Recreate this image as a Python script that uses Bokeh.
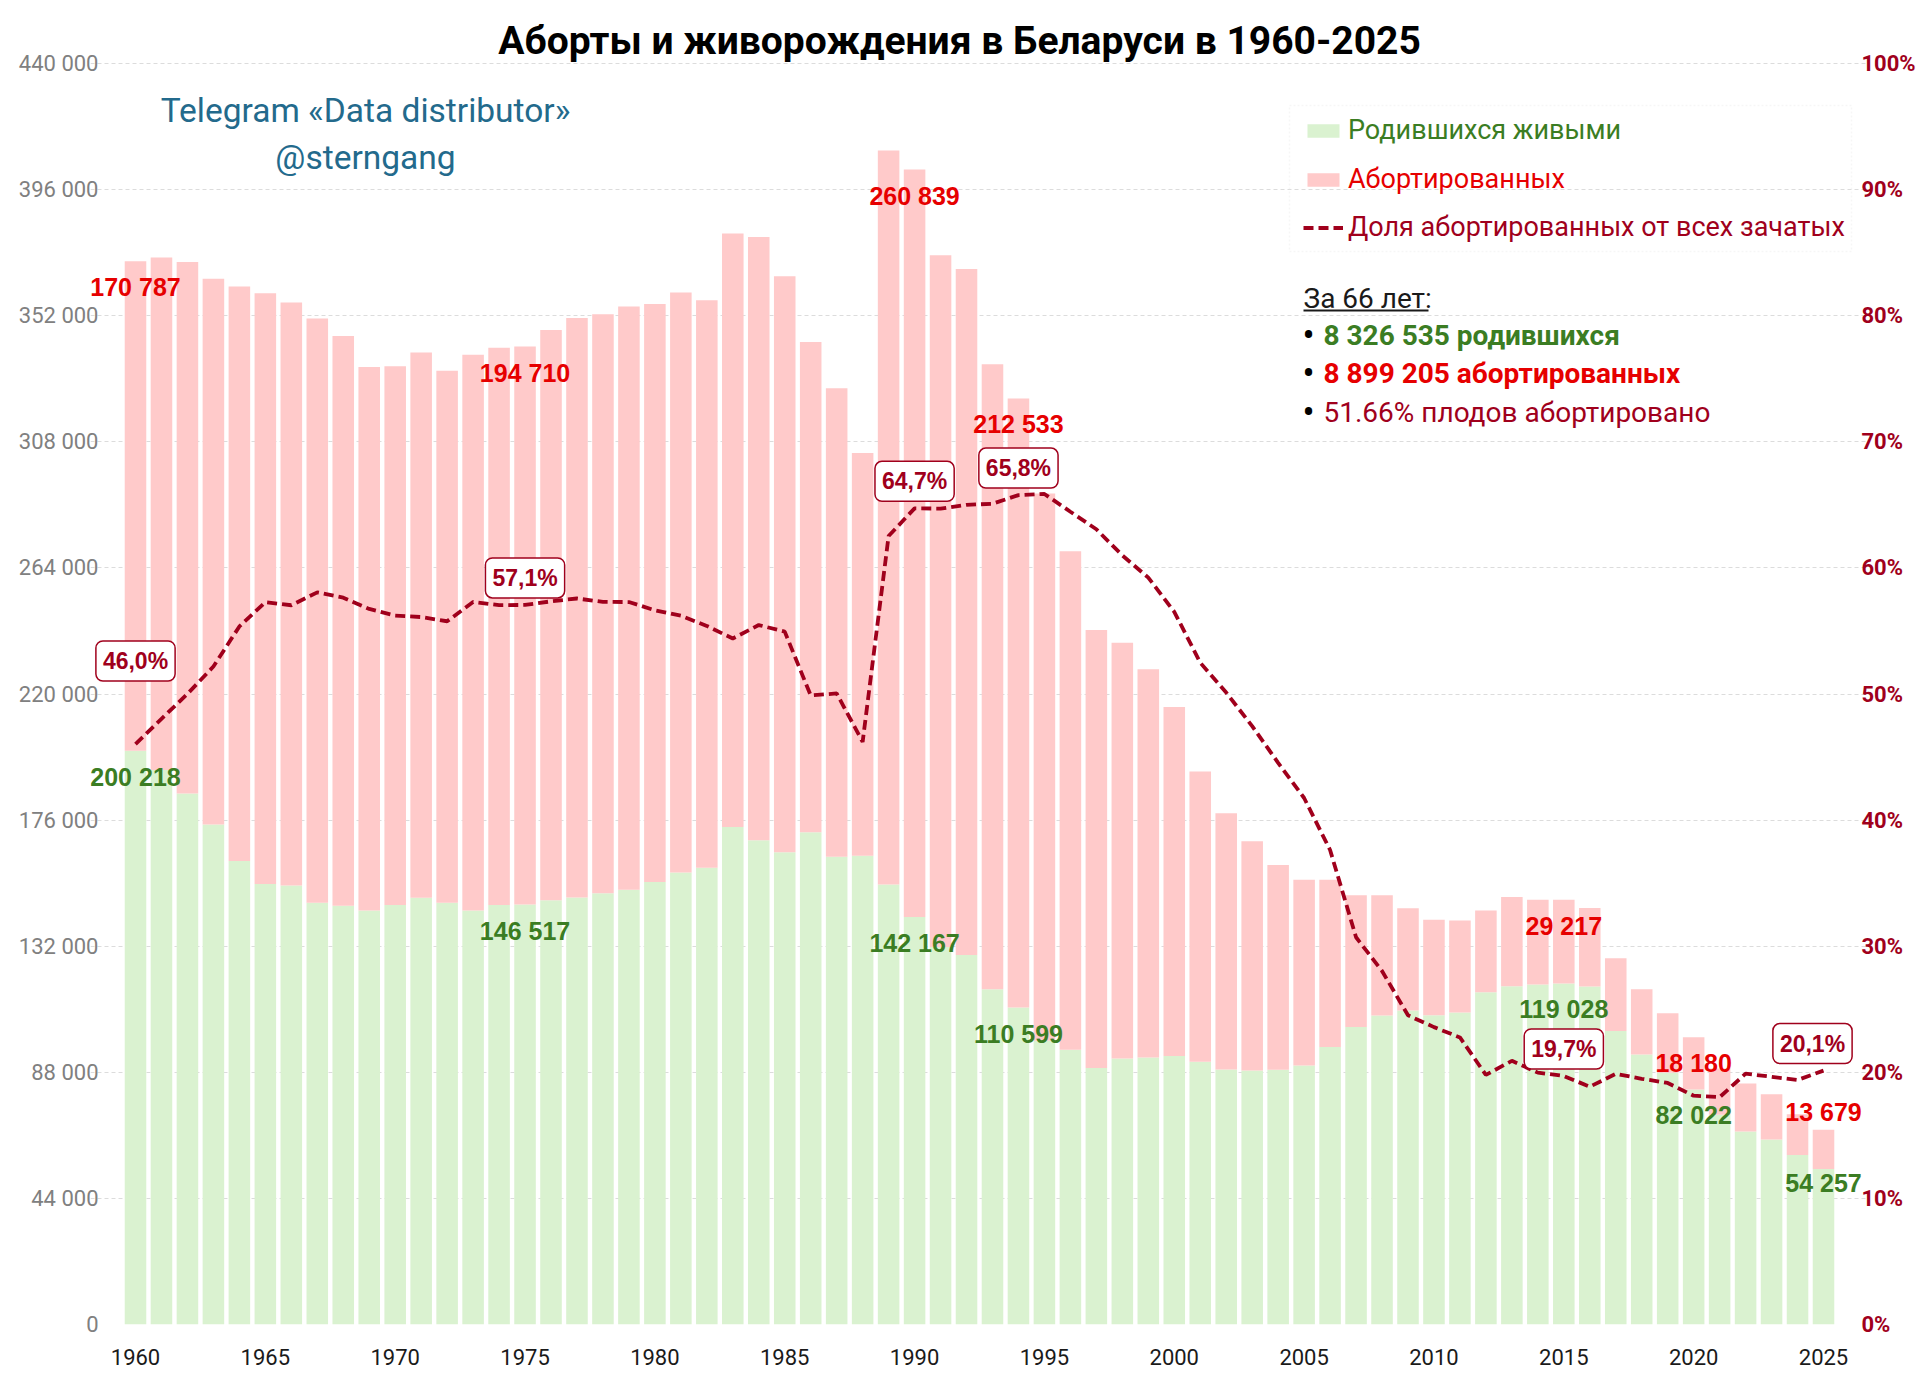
from bokeh.embed import file_html
from bokeh.resources import INLINE
from bokeh.plotting import figure
from bokeh.models import (ColumnDataSource, Range1d, LinearAxis, FixedTicker, SingleIntervalTicker,
                          CustomJSTickFormatter, PrintfTickFormatter, Label, Legend, LegendItem,
                          BoxAnnotation)

# ---- data ----
years = list(range(1960, 2026))
births = [200218, 193500, 185300, 174500, 161700, 153700, 153200, 147200, 146100, 144500,
          146400, 148900, 147200, 144500, 146400, 146517, 148000, 149000, 150500, 151700,
          154400, 157700, 159400, 173600, 169000, 164800, 171800, 163200, 163600, 153500,
          142167, 131700, 128900, 117000, 110599, 99000, 95900, 89500, 92800, 93200,
          93700, 91700, 89000, 88600, 88900, 90400, 96800, 103800, 107800, 109600,
          107900, 108900, 115900, 118000, 118600, 119028, 117900, 102400, 94200, 87800,
          82022, 73200, 67350, 64550, 59170, 54257]
abortions = [170787, 178800, 185400, 190400, 200500, 206100, 203400, 203800, 198800, 189600,
             188000, 190300, 185600, 193900, 194400, 194710, 199000, 202200, 202000, 203500,
             201700, 202400, 198000, 207100, 210500, 201000, 171000, 163500, 140500, 256100,
             260839, 241400, 239400, 218100, 212533, 191000, 173900, 152800, 145100, 135400,
             121800, 101300, 89400, 80000, 71400, 64800, 58400, 46000, 42000, 35600,
             33300, 32100, 28600, 31200, 29600, 29217, 27400, 25400, 22800, 20800,
             18180, 16100, 16720, 15780, 14230, 13679]
year_ticks = [1960, 1965, 1970, 1975, 1980, 1985, 1990, 1995, 2000, 2005, 2010, 2015, 2020, 2025]
marked_years = [1960, 1975, 1990, 1994, 2015, 2020, 2025]
share_boxes = [1960, 1975, 1990, 1994, 2015, 2025]
stats = ["8 326 535 родившихся", "8 899 205 абортированных", "51.66% плодов абортировано"]

share = [100.0 * a / (a + b) for a, b in zip(abortions, births)]
total = [a + b for a, b in zip(abortions, births)]

GREEN = "#daf2d0"
PINK = "#ffcaca"
DARK = "#a0001c"
RED = "#e60000"
DGREEN = "#3b7d23"
NARROW = "Roboto"
WIDE = "Liberation Sans"

# frame spans x 90..1866, y 12..1324 (page px); 440 000 sits at y=63
W, H = 1920, 1375
FL, FR, FT, FB = 90, 1866, 12, 1324
PX_PER_YEAR = 25.97
y_top = 440000 * (FB - FT) / (FB - 63)
pct_top = 100.0 * (FB - FT) / (FB - 63)

p = figure(width=W, height=H,
           x_range=Range1d(1960 - (135 - FL) / PX_PER_YEAR, 2025 + (FR - 1823) / PX_PER_YEAR),
           y_range=Range1d(0, y_top), output_backend="svg", toolbar_location=None,
           min_border_left=FL, min_border_right=W - FR, min_border_top=FT,
           min_border_bottom=H - FB)
p.outline_line_color = None
p.extra_y_ranges = {"pct": Range1d(0, pct_top)}


def sx(px):
    return px - FL


def sy(py):
    return FB - py


src = ColumnDataSource(dict(year=years, births=births, abortions=abortions, share=share))
bars = p.vbar_stack(["births", "abortions"], x="year", width=0.83, source=src,
                    fill_color=[GREEN, PINK], line_color=None)
line = p.line("year", "share", source=src, y_range_name="pct", line_color=DARK,
              line_width=3.8, line_dash="10 5")

# axes
p.yaxis.ticker = SingleIntervalTicker(interval=44000, num_minor_ticks=0)
p.yaxis.formatter = CustomJSTickFormatter(
    code=r"return tick.toFixed(0).replace(/\B(?=(\d{3})+(?!\d))/g, ' ');")
p.xaxis.ticker = FixedTicker(ticks=year_ticks, minor_ticks=[])

pct_axis = LinearAxis(y_range_name="pct",
                      ticker=SingleIntervalTicker(interval=10, num_minor_ticks=0),
                      formatter=PrintfTickFormatter(format="%d%%"))
p.add_layout(pct_axis, "right")

for ax in [p.yaxis[0], p.xaxis[0], pct_axis]:
    ax.axis_line_color = None
    ax.major_tick_line_color = None
    ax.minor_tick_line_color = None
    ax.major_tick_out = 0
    ax.major_tick_in = 0
    ax.minor_tick_out = 0
    ax.minor_tick_in = 0
    ax.major_label_text_font = NARROW

p.yaxis[0].major_label_text_color = "#808080"
p.yaxis[0].major_label_text_font_size = "22px"
p.yaxis[0].major_label_standoff = -8
pct_axis.major_label_text_color = DARK
pct_axis.major_label_text_font_style = "bold"
pct_axis.major_label_text_font_size = "22px"
pct_axis.major_label_standoff = -5
p.xaxis[0].major_label_text_color = "#1a1a1a"
p.xaxis[0].major_label_text_font_size = "22px"
p.xaxis[0].major_label_standoff = 24

p.xgrid.visible = False
p.ygrid.grid_line_color = "#dcdcdc"
p.ygrid.grid_line_dash = "4 3"

# value labels
fmt = lambda v: f"{v:,}".replace(",", " ")
top_off = {2025: 18}
low_off = {2025: -14}
for yr in marked_years:
    i = years.index(yr)
    p.add_layout(Label(x=yr, y=total[i], y_offset=top_off.get(yr, -26), text=fmt(abortions[i]),
                       text_align="center", text_baseline="middle", text_color=RED,
                       text_font=WIDE, text_font_style="bold", text_font_size="25px"))
    p.add_layout(Label(x=yr, y=births[i], y_offset=low_off.get(yr, -26), text=fmt(births[i]),
                       text_align="center", text_baseline="middle", text_color=DGREEN,
                       text_font=WIDE, text_font_style="bold", text_font_size="25px"))

box_yoff = {1960: 83}
box_xoff = {2025: -11}
for yr in share_boxes:
    i = years.index(yr)
    p.add_layout(Label(x=yr, y=share[i], y_range_name="pct", x_offset=box_xoff.get(yr, 0),
                       y_offset=box_yoff.get(yr, 27), text=f"{share[i]:.1f}%".replace(".", ","),
                       text_align="center", text_baseline="middle", text_color=DARK,
                       text_font=WIDE, text_font_style="bold", text_font_size="23px",
                       background_fill_color="white", border_line_color=DARK,
                       border_line_width=1.5, border_radius=7, padding=7))

# title and watermark
p.add_layout(Label(x=sx(959), y=sy(40), x_units="screen", y_units="screen",
                   text="Аборты и живорождения в Беларуси в 1960-2025", text_align="center",
                   text_baseline="middle", text_font=NARROW, text_font_style="bold",
                   text_font_size="39px", text_color="black"))
for txt, py in [("Telegram «Data distributor»", 110), ("@sterngang", 157)]:
    p.add_layout(Label(x=sx(365), y=sy(py), x_units="screen", y_units="screen", text=txt,
                       text_align="center", text_baseline="middle", text_font=NARROW,
                       text_font_size="33.5px", text_color="#236a8c"))

# legend
p.add_layout(BoxAnnotation(left=sx(1289), right=sx(1851), top=sy(105), bottom=sy(251),
                           left_units="screen", right_units="screen", top_units="screen",
                           bottom_units="screen", fill_alpha=0, line_color="#e2e2e2",
                           line_dash="2 2", line_width=1.5))
entries = [("Родившихся живыми", bars[0], DGREEN, 130),
           ("Абортированных", bars[1], RED, 179),
           ("Доля абортированных от всех зачатых", line, DARK, 227)]
for txt, rend, col, py in entries:
    lg = Legend(items=[LegendItem(label=txt, renderers=[rend])], location=(sx(1303), sy(py) - 16),
                label_text_color=col, label_text_font=NARROW, label_text_font_size="27px",
                glyph_width=40, glyph_height=17, padding=0, margin=0, spacing=0,
                label_standoff=5, border_line_color=None, background_fill_alpha=0)
    p.add_layout(lg)

# summary block
p.add_layout(Label(x=sx(1303), y=sy(298), x_units="screen", y_units="screen", text="За 66 лет:",
                   text_baseline="middle", text_font=NARROW, text_font_size="28px",
                   text_color="#1a1a1a"))
p.add_layout(BoxAnnotation(left=sx(1303), right=sx(1428), top=sy(309), bottom=sy(311),
                           left_units="screen", right_units="screen", top_units="screen",
                           bottom_units="screen", fill_color="#1a1a1a", fill_alpha=1,
                           line_color=None))
stat_styles = [(DGREEN, "bold", 335), (RED, "bold", 373), (DARK, "normal", 412)]
for txt, (col, style, py) in zip(stats, stat_styles):
    p.add_layout(Label(x=sx(1302), y=sy(py), x_units="screen", y_units="screen", text="•",
                       text_baseline="middle", text_font=NARROW, text_font_size="36px",
                       text_color="black"))
    p.add_layout(Label(x=sx(1323), y=sy(py), x_units="screen", y_units="screen", text=txt,
                       text_baseline="middle", text_font=NARROW, text_font_style=style,
                       text_font_size="28px", text_color=col))

open("out.html", "w").write(file_html(p, INLINE))
